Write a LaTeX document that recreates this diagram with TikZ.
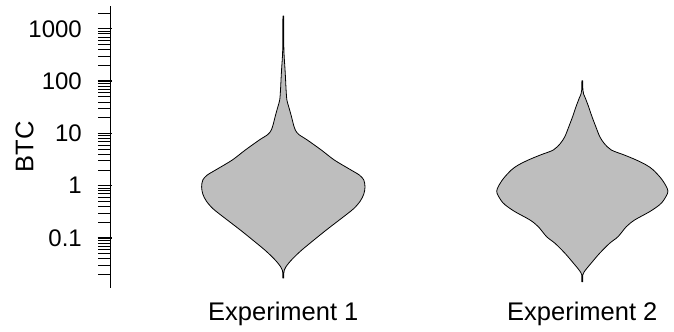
\documentclass[tikz,border=0pt]{standalone}
\usepackage{fontspec}
\setmainfont{Liberation Sans}
\definecolor{violingray}{RGB}{190,190,190}
\begin{document}
\begin{tikzpicture}[x=1bp,y=-1bp,
  lbl/.style={font=\fontsize{25.5bp}{30bp}\selectfont, inner sep=0pt},
  ticklbl/.style={font=\fontsize{24bp}{28bp}\selectfont, inner sep=0pt, anchor=east},
  violin/.style={draw=black, line width=0.8bp, fill=violingray, line join=round},
  minortick/.style={line width=0.8bp},
  majortick/.style={line width=1.3bp}]
\useasboundingbox (0,0) rectangle (674,331);
% axis
\coordinate (axtop) at (110,6);
\coordinate (axbot) at (110,288);
\draw[line width=1bp] (axtop) -- (axbot);
\foreach \k in {-2,...,3}{
  \foreach \m in {1,...,9}{
    \pgfmathsetmacro{\yy}{185.7-52.3*(log10(\m)+\k)}
    \pgfmathtruncatemacro{\ok}{and(\yy>8,\yy<287)}
    \ifnum\ok=1
      \ifnum\m=1
        \draw[majortick] (97.5,\yy) -- (111.5,\yy);
      \else
        \draw[minortick] (98,\yy) -- (110,\yy);
      \fi
    \fi
  }
}
% tick labels
\node[ticklbl] (l1000) at (82,28.8) {1000};
\node[ticklbl] (l100) at (82,81.1) {100};
\node[ticklbl] (l10) at (82,133.4) {10};
\node[ticklbl] (l1) at (82,185.7) {1};
\node[ticklbl] (l01) at (82,238.0) {0.1};
\node[lbl, rotate=90] (ylab) at (24.5,147) {BTC};
% violin 1
\begin{scope}[shift={(283.3,0)}]
\draw[violin] plot[smooth, tension=0.5] coordinates {
 (0.4,16) (0.5,45) (0.9,57) (1.5,66) (2.1,76) (2.8,90) (3.6,100) (5.5,107) (8,116) (10,124) (12,130) (15.5,134.5) (24,140) (38,150) (51,160) (66,169) (76,175) (80.5,180) (81.7,187) (80.5,194) (77,201) (70,209) (56,220) (43,230) (30.6,240) (18.5,250) (10,258) (5.5,263) (2.5,267) (1,270) (0.5,273) (0.5,278)}
 -- plot[smooth, tension=0.5] coordinates {
 (-0.5,278) (-0.5,273) (-1,270) (-2.5,267) (-5.5,263) (-10,258) (-18.5,250) (-30.6,240) (-43,230) (-56,220) (-70,209) (-77,201) (-80.5,194) (-81.7,187) (-80.5,180) (-76,175) (-66,169) (-51,160) (-38,150) (-24,140) (-15.5,134.5) (-12,130) (-10,124) (-8,116) (-5.5,107) (-3.6,100) (-2.8,90) (-2.1,76) (-1.5,66) (-0.9,57) (-0.5,45) (-0.4,16)}
 -- cycle;
\end{scope}
% violin 2
\begin{scope}[shift={(582.3,0)}]
\draw[violin] plot[smooth, tension=0.5] coordinates {
 (0.4,80.7) (0.6,90) (1.3,94) (3,98) (6.3,106.7) (9.7,116.7) (13.5,126.7) (17.5,136.7) (22,143.5) (29,150) (42,155) (54,160) (64,165) (71,170) (80,180) (85.6,191) (81.5,200) (77,205) (67.3,211.7) (52.3,220) (44,226.7) (35.7,236.7) (27.3,243.3) (17.3,253.3) (9,263) (4,269) (1.5,272.5) (0.5,275) (0.5,281.7)}
 -- plot[smooth, tension=0.5] coordinates {
 (-0.5,281.7) (-0.5,275) (-1.5,272.5) (-4,269) (-9,263) (-17.3,253.3) (-27.3,243.3) (-35.7,236.7) (-44,226.7) (-52.3,220) (-67.3,211.7) (-77,205) (-81.5,200) (-85.6,191) (-80,180) (-71,170) (-64,165) (-54,160) (-42,155) (-29,150) (-22,143.5) (-17.5,136.7) (-13.5,126.7) (-9.7,116.7) (-6.3,106.7) (-3,98) (-1.3,94) (-0.6,90) (-0.4,80.7)}
 -- cycle;
\end{scope}
% category labels
\node[lbl, anchor=base] (e1) at (283.3,320.7) {Experiment 1};
\node[lbl, anchor=base] (e2) at (582.3,320.7) {Experiment 2};
\end{tikzpicture}
\end{document}
